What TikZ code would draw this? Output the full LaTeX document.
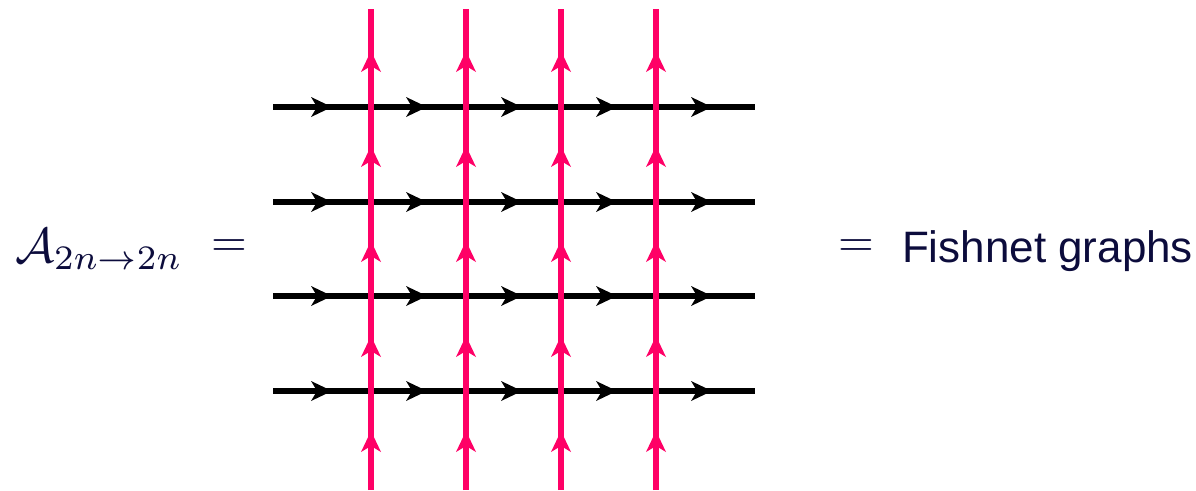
\documentclass[tikz,border=0pt]{standalone}
\usepackage{graphicx}
\usepackage{fontspec}
\newfontfamily\helv{Liberation Sans}
\usetikzlibrary{decorations.markings}
\definecolor{navy}{RGB}{12,12,60}
\definecolor{fishpink}{RGB}{255,0,102}
\newcommand{\headshape}[1]{\fill[#1] (0pt,0pt) -- (-21pt,10pt) -- (-15pt,0pt) -- (-21pt,-10pt) -- cycle;}
\tikzset{
  hline/.style={line width=6pt, black, postaction={decorate}, decoration={markings,
    mark=at position 59pt with {\headshape{black}},
    mark=at position 154pt with {\headshape{black}},
    mark=at position 249pt with {\headshape{black}},
    mark=at position 344pt with {\headshape{black}},
    mark=at position 439pt with {\headshape{black}}}},
  vline/.style={line width=5.5pt, fishpink, postaction={decorate}, decoration={markings,
    mark=at position 59pt with {\headshape{fishpink}},
    mark=at position 154pt with {\headshape{fishpink}},
    mark=at position 249pt with {\headshape{fishpink}},
    mark=at position 344pt with {\headshape{fishpink}},
    mark=at position 439pt with {\headshape{fishpink}}}},
  txt/.style={text=navy, inner sep=0pt, outer sep=0pt}
}
\begin{document}
\begin{tikzpicture}[x=1pt,y=-1pt]
\useasboundingbox (0,0) rectangle (1196,490);
% horizontal lines
\foreach \i/\y in {1/107,2/202,3/296,4/391}{
  \coordinate (h\i w) at (273,\y);
  \coordinate (h\i e) at (755,\y);
  \draw[hline] (h\i w) -- (h\i e);
}
% vertical lines
\foreach \j/\x in {1/371,2/466,3/561,4/656}{
  \coordinate (v\j s) at (\x,490);
  \coordinate (v\j n) at (\x,9);
  \draw[vline] (v\j s) -- (v\j n);
}
\node[txt, anchor=base west] (amp) at (15,262) {\scalebox{4.9}{$\mathcal{A}_{2n\to 2n}$}};
\node[txt] (eqL) at (229,248) {\scalebox{4.6}{$=$}};
\node[txt] (eqR) at (856,248) {\scalebox{4.6}{$=$}};
\node[txt, anchor=base west] (fish) at (902,262) {\fontsize{44}{50}\selectfont\helv Fishnet graphs};
\end{tikzpicture}
\end{document}
